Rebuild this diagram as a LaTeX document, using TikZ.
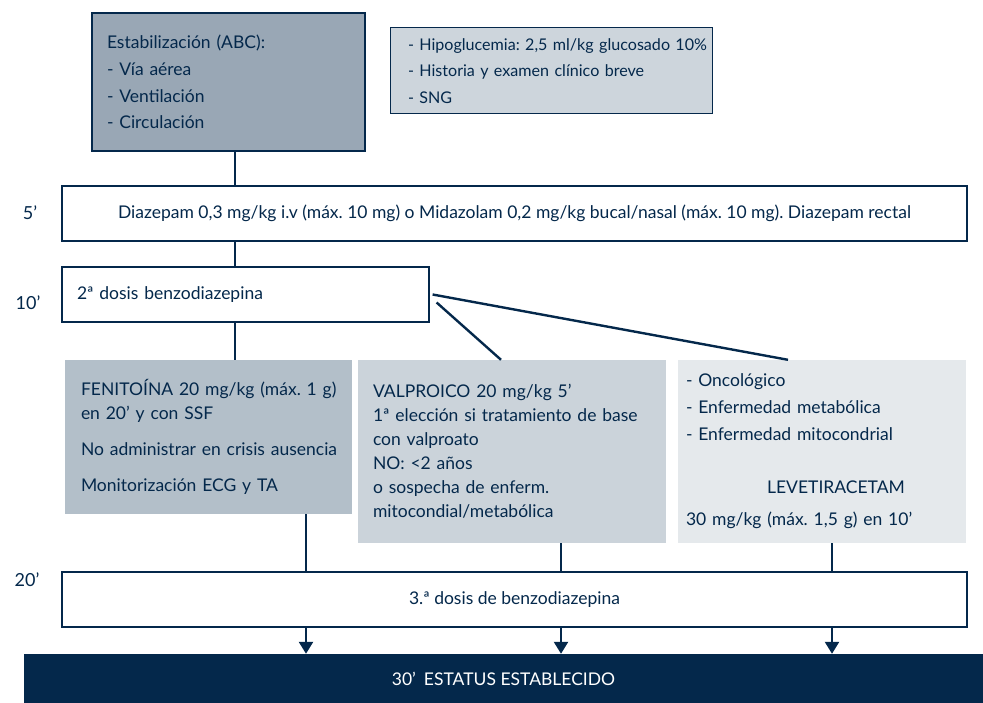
\documentclass[tikz,border=0pt]{standalone}
\usepackage{fontspec}
\setmainfont{Lato}
\usepackage{tikz}
\usetikzlibrary{positioning}
\usetikzlibrary{arrows.meta}
\frenchspacing

\definecolor{navy}{HTML}{04284B}
\definecolor{slatedark}{HTML}{99A7B5}
\definecolor{slatemid}{HTML}{B3BFC9}
\definecolor{slatelight}{HTML}{CBD3DA}
\definecolor{slatepale}{HTML}{CDD5DC}
\definecolor{slatefaint}{HTML}{E5E9EC}

\begin{document}
\begin{tikzpicture}
    [
    x=1pt,y=-1pt,
    every node/.style={text=navy,font=\fontsize{17.5}{24}\selectfont},
    box/.style={rectangle,inner sep=0pt,align=left},
    frame/.style={box,draw=navy,line width=1.2pt},
    stepbox/.style={frame,fill=white,minimum width=905pt,minimum height=55pt,align=center},
    link/.style={draw=navy,line width=2.4pt},
    down/.style={link,-{Triangle[width=14pt,length=12pt]}},
    time/.style={font=\fontsize{18}{20}\selectfont}
    ]
    \useasboundingbox (0,0) rectangle (983,703);

    \node (abc) at (228.5,82) [frame,fill=slatedark,minimum width=273pt,minimum height=138pt,text width=243pt,font=\fontsize{17.5}{26.7}\selectfont]
      {Estabilización (ABC):\\- Vía aérea\\- Ventilación\\- Circulación};
    \node (hipo) at (551,71) [frame,fill=slatepale,line width=1pt,minimum width=322pt,minimum height=86pt,text width=286pt,font=\fontsize{16.1}{26.5}\selectfont]
      {\mbox{- Hipoglucemia: 2,5 ml/kg glucosado 10\%}\\- Historia y examen clínico breve\\- SNG};

    \node (diaz) at (514.5,213.5) [stepbox]
      {Diazepam 0,3 mg/kg i.v (máx. 10 mg) o Midazolam 0,2 mg/kg bucal/nasal (máx. 10 mg). Diazepam rectal};
    \node (t5) at (30,213) [time] {5’};

    \node (dos) at (245.5,294.5) [frame,fill=white,minimum width=367pt,minimum height=55pt,text width=337pt] {2ª dosis benzodiazepina};
    \node (t10) at (28,303) [time] {10’};

    \node (feni) at (208.5,437) [box,fill=slatemid,minimum width=287pt,minimum height=154pt,text width=255pt]
      {\mbox{FENITOÍNA 20 mg/kg (máx. 1 g)}\\en 20’ y con SSF\\[12pt]\mbox{No administrar en crisis ausencia}\\[12pt]Monitorización ECG y TA};
    \node (valp) at (512,451.5) [box,fill=slatelight,minimum width=308pt,minimum height=183pt,text width=278pt]
      {VALPROICO 20 mg/kg 5’\\\mbox{1ª elección si tratamiento de base}\\con valproato\\NO: <2 años\\o sospecha de enferm.\\mitocondial/metabólica};
    \node (leve) at (822,451.5) [box,fill=slatefaint,minimum width=288pt,minimum height=183pt,text width=272pt,font=\fontsize{17.5}{27}\selectfont]
      {- Oncológico\\- Enfermedad metabólica\\- Enfermedad mitocondrial\\[26pt]\hspace*{28pt}\makebox[244pt]{LEVETIRACETAM}\\[5pt]30 mg/kg (máx. 1,5 g) en 10’};

    \node (tres) at (514.5,599.5) [stepbox] {3.ª dosis de benzodiazepina};
    \node (t20) at (27,580) [time] {20’};

    \node (status) at (503.5,678.5) [box,fill=navy,text=white,minimum width=959pt,minimum height=49pt] {30’\hspace{8pt}ESTATUS ESTABLECIDO};

    \coordinate (col) at (235,0);
    \coordinate (c1) at (306,0);
    \coordinate (c2) at (561,0);
    \coordinate (c3) at (832,0);

    \draw [link] (abc.south -| col) to (diaz.north -| col);
    \draw [link] (diaz.south -| col) to (dos.north -| col);
    \draw [link] (dos.south -| col) to (feni.north -| col);
    \draw [link] ([xshift=3pt]dos.east) to ([xshift=-34pt]leve.north);
    \draw [link] ([xshift=7pt,yshift=-8pt]dos.east) to ([xshift=-11pt]valp.north);

    \draw [link] (feni.south -| c1) to (tres.north -| c1);
    \draw [link] (valp.south -| c2) to (tres.north -| c2);
    \draw [link] (leve.south -| c3) to (tres.north -| c3);
    \draw [down] (tres.south -| c1) to (status.north -| c1);
    \draw [down] (tres.south -| c2) to (status.north -| c2);
    \draw [down] (tres.south -| c3) to (status.north -| c3);
\end{tikzpicture}
\end{document}
